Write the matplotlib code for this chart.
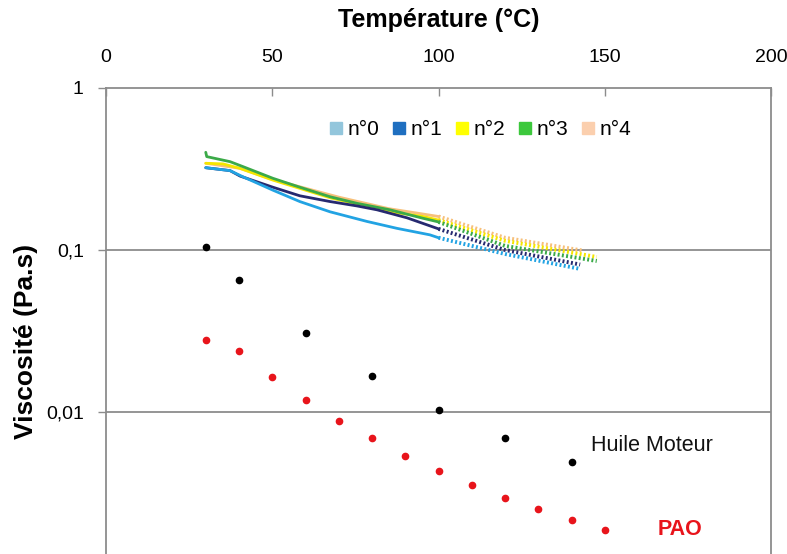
import matplotlib
matplotlib.use("Agg")
import matplotlib.pyplot as plt
from matplotlib.lines import Line2D
from matplotlib.ticker import FixedLocator, FixedFormatter, NullLocator

plt.rcParams['font.family'] = ['Liberation Sans', 'DejaVu Sans']

# ---- data ----
huile_T = [30, 40, 60, 80, 100, 120, 140]
huile_V = [0.104, 0.0653, 0.0307, 0.0167, 0.0103, 0.0069, 0.0049]

pao_T = [30, 40, 50, 60, 70, 80, 90, 100, 110, 120, 130, 140, 150]
pao_V = [0.0278, 0.0238, 0.01644, 0.01186, 0.00884, 0.00691, 0.00531,
         0.00430, 0.00355, 0.00296, 0.00252, 0.00216, 0.00188]

# solid (measured) part of each sample curve
n0_T = [30, 37.3, 41.2, 50.2, 58.3, 67.4, 78.5, 87.5, 97.4, 100]
n0_V = [0.322, 0.309, 0.283, 0.234, 0.199, 0.172, 0.150, 0.136, 0.124, 0.119]
n1_T = [30, 37.3, 40.3, 50.2, 58.3, 67.4, 75.5, 81.5, 90.5, 100]
n1_V = [0.322, 0.309, 0.286, 0.244, 0.216, 0.199, 0.187, 0.177, 0.158, 0.135]
n2_T = [30, 35.2, 40.3, 50.2, 58.3, 67.4, 75.5, 85.4, 95.3, 100]
n2_V = [0.343, 0.340, 0.319, 0.270, 0.240, 0.210, 0.192, 0.172, 0.161, 0.153]
n3_T = [30, 30.3, 37.3, 41.2, 50.2, 58.3, 67.4, 75.5, 85.4, 95.3, 100]
n3_V = [0.401, 0.377, 0.351, 0.327, 0.277, 0.244, 0.213, 0.194, 0.177, 0.157, 0.149]
n4_T = [30, 40.3, 50.2, 70, 85, 100]
n4_V = [0.343, 0.319, 0.272, 0.212, 0.180, 0.161]

# dotted (extrapolated) part of each sample curve
n0_Td = [100, 120, 142.6]
n0_Vd = [0.119, 0.0945, 0.0764]
n1_Td = [100, 120, 142.6]
n1_Vd = [0.135, 0.100, 0.0813]
n2_Td = [100, 120, 147.6]
n2_Vd = [0.153, 0.114, 0.0905]
n3_Td = [100, 120, 147.6]
n3_Vd = [0.149, 0.106, 0.0855]
n4_Td = [100, 120, 143.2]
n4_Vd = [0.161, 0.119, 0.0993]

legend_labels = ["n°0", "n°1", "n°2", "n°3", "n°4"]
legend_colors = ["#93C6DC", "#1F6FC0", "#FFFF00", "#3CC83C", "#FBCFAE"]
line_colors = ["#22A3E3", "#262A70", "#F5E600", "#3BAA48", "#F7C07A"]

x_ticks = [0, 50, 100, 150, 200]
y_ticks = [0.01, 0.1, 1]
y_ticklabels = ["0,01", "0,1", "1"]

# ---- figure ----
fig = plt.figure(figsize=(7.87, 5.54), dpi=100)
ax = fig.add_axes([106/787, 0.0, (771-106)/787, (554-88)/554])
ax.set_yscale('log')
ax.set_xlim(0, 200)
ax.set_ylim(10**-2.877, 1)

gray = "#8C8C8C"
for yv in [0.1, 0.01]:
    ax.axhline(yv, color=gray, lw=1.3, zorder=1)

series = [
    (n4_T, n4_V, n4_Td, n4_Vd, line_colors[4]),
    (n2_T, n2_V, n2_Td, n2_Vd, line_colors[2]),
    (n3_T, n3_V, n3_Td, n3_Vd, line_colors[3]),
    (n1_T, n1_V, n1_Td, n1_Vd, line_colors[1]),
    (n0_T, n0_V, n0_Td, n0_Vd, line_colors[0]),
]
for T, V, Td, Vd, c in series:
    ax.plot(T, V, color=c, lw=2.0, solid_capstyle='round', zorder=3)
    ax.plot(Td, Vd, color=c, lw=2.8, linestyle=(0, (0.5, 0.6)), zorder=3)

ax.plot(huile_T, huile_V, 'o', color='black', ms=4.5, zorder=4)
ax.plot(pao_T, pao_V, 'o', color='#E8141B', ms=4.5, zorder=4)

ax.text(146, 0.00625, "Huile Moteur", fontsize=15.5, color='#111111',
        ha='left', va='center')
ax.text(166, 0.00187, "PAO", fontsize=15.5, fontweight='bold', color='#E8141B',
        ha='left', va='center')

# axes styling
ax.xaxis.tick_top()
ax.xaxis.set_label_position('top')
ax.set_xticks(x_ticks)
ax.tick_params(axis='x', direction='in', length=6, width=1, color=gray,
               labelsize=14, pad=15.5)
ax.yaxis.set_major_locator(FixedLocator(y_ticks))
ax.yaxis.set_major_formatter(FixedFormatter(y_ticklabels))
ax.yaxis.set_minor_locator(NullLocator())
ax.tick_params(axis='y', direction='out', length=6, width=1, color=gray,
               labelsize=14, pad=10)
for s in ['top', 'left', 'right']:
    ax.spines[s].set_color(gray)
    ax.spines[s].set_linewidth(1.3)
ax.spines['bottom'].set_visible(False)

ax.set_xlabel("Température (°C)", fontsize=18, fontweight='bold', labelpad=16)
ax.set_ylabel("Viscosité (Pa.s)", fontsize=19, fontweight='bold')
ax.yaxis.set_label_coords(-0.102, 0.457)

handles = [Line2D([], [], marker='s', linestyle='None', markersize=9,
                  markerfacecolor=c, markeredgecolor=c) for c in legend_colors]
ax.legend(handles, legend_labels, ncol=5, frameon=False, fontsize=15,
          loc='center', bbox_to_anchor=(0.562, 0.91), handlelength=0.8,
          handletextpad=0.15, columnspacing=0.55, borderaxespad=0)

fig.savefig("out.png", dpi=100)
